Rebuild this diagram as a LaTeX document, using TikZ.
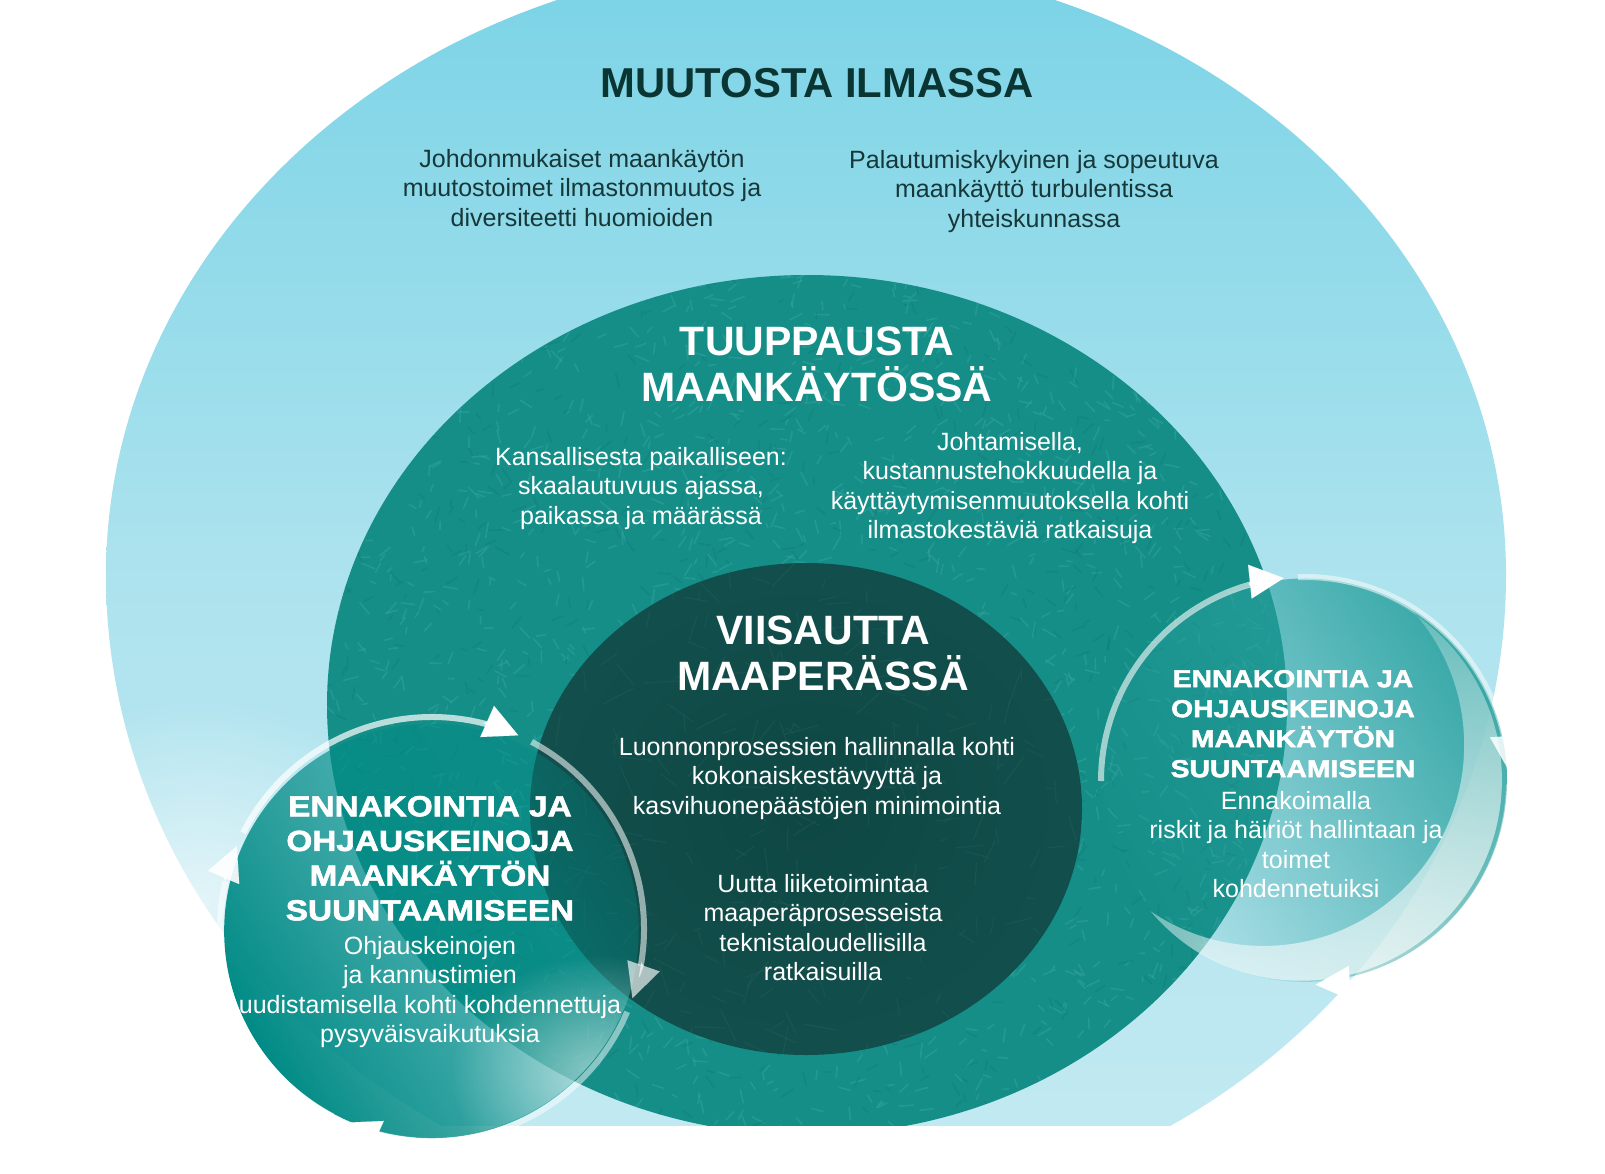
\documentclass[tikz,border=0pt]{standalone}
\usepackage{fontspec}
\setmainfont{Liberation Sans}
\newfontfamily\hvy{Liberation Sans}[FakeStretch=1.15,BoldFeatures={FakeBold=2}]
\usetikzlibrary{arrows.meta,fadings}
\definecolor{skyA}{HTML}{7AD3E6}
\definecolor{skyB}{HTML}{AEE3EE}
\definecolor{skyC}{HTML}{C4EAF2}
\definecolor{grass}{HTML}{158E88}
\definecolor{grassL}{HTML}{3AA8A0}
\definecolor{grassD}{HTML}{0C7670}
\definecolor{soil}{HTML}{0E4744}
\definecolor{soilE}{HTML}{124F4C}
\definecolor{soilL}{HTML}{2E6C67}
\definecolor{discL}{HTML}{018B86}
\definecolor{discR}{HTML}{2AA19F}
\definecolor{ink}{HTML}{0B3533}
\definecolor{inkB}{HTML}{173839}
\tikzfading[name=fadeL, left color=transparent!0, right color=transparent!70]
\tikzfading[name=fadeR, left color=transparent!10, right color=transparent!95]
\tikzfading[name=fadeC, left color=transparent!100, right color=transparent!35]
\tikzfading[name=blob, inner color=transparent!0, outer color=transparent!100]
\newcommand\ringseg[5]{\draw[ringline, draw opacity=#5] (#1) ++({-(#3)}:#2) arc[start angle={-(#3)}, end angle={-(#4)}, radius=#2];}
\newcommand\ringtip[4]{\draw[arrhead, opacity=#4] (#1) ++({-(#3+10)}:#2) arc[start angle={-(#3+10)}, end angle={-(#3)}, radius=#2];}
\begin{document}
\begin{tikzpicture}[x=1pt,y=-1pt,
  txt/.style={inner sep=0pt, outer sep=0pt, align=center, anchor=north},
  body/.style={txt, font=\fontsize{25}{29.6}\selectfont},
  ttl/.style={txt, font=\bfseries\fontsize{41}{45.5}\selectfont, text=white},
  hvL/.style={txt, font=\hvy\bfseries\fontsize{29}{34.7}\selectfont, text=white},
  hvR/.style={txt, font=\hvy\bfseries\fontsize{24.6}{30}\selectfont, text=white},
  ringline/.style={draw=white, line width=6pt},
  blade/.style={line width=1.6pt, line cap=round},
  arrhead/.style={draw=white, fill=white, line width=0.01pt, -{Triangle[width=34pt,length=34pt]}}]
\useasboundingbox (0,0) rectangle (1605,1174);
\fill[white] (0,0) rectangle (1605,1174);
\coordinate (O) at (806,575);
\coordinate (M) at (807,705);
\coordinate (I) at (806,809);
\coordinate (L) at (432,929);
\coordinate (R) at (1305,781);
\begin{scope}
\clip (0,0) rectangle (1605,1125);
\shade[top color=skyA, bottom color=skyC, middle color=skyB]
  (106,575) arc[start angle=180,end angle=360,x radius=700,y radius=615]
  arc[start angle=0,end angle=180,x radius=700,y radius=645] -- cycle;
\fill[white, fill opacity=0.6, path fading=blob] (200,900) ellipse[x radius=230, y radius=200];
\fill[grass] (M) ellipse[x radius=480, y radius=430];
\clip (M) ellipse[x radius=480, y radius=430];
\pgfmathsetseed{12}
\foreach \k in {1,...,1900} {
  \pgfmathsetmacro\xx{327+960*rnd}
  \pgfmathsetmacro\yy{275+860*rnd}
  \pgfmathsetmacro\aa{360*rnd}
  \pgfmathsetmacro\ll{5+10*rnd}
  \draw[blade, draw=grassL, draw opacity=0.42] (\xx,\yy) -- ++(\aa:\ll);
}
\foreach \k in {1,...,800} {
  \pgfmathsetmacro\xx{327+960*rnd}
  \pgfmathsetmacro\yy{275+860*rnd}
  \pgfmathsetmacro\aa{360*rnd}
  \pgfmathsetmacro\ll{5+10*rnd}
  \draw[blade, draw=grassD, draw opacity=0.3] (\xx,\yy) -- ++(\aa:\ll);
}
\end{scope}
\shade[inner color=soil, outer color=soilE] (I) ellipse[x radius=276, y radius=246];
\begin{scope}
\clip (I) ellipse[x radius=276, y radius=246];
\foreach \k in {1,...,260} {
  \pgfmathsetmacro\xx{530+552*rnd}
  \pgfmathsetmacro\yy{563+492*rnd}
  \pgfmathsetmacro\aa{360*rnd}
  \pgfmathsetmacro\ll{6+30*rnd}
  \draw[line width=1.2pt, line cap=round, draw=soilL, draw opacity=0.25] (\xx,\yy) -- ++(\aa:\ll);
}
\end{scope}
% left disc
\fill[discL, path fading=fadeL, fading angle=30] (L) circle[radius=208];
\begin{scope}
\clip (L) circle[radius=208];
\fill[white, fill opacity=0.55, path fading=blob] (600,1075) ellipse[x radius=150, y radius=120];
\end{scope}
% right disc
\fill[discR, path fading=fadeR, fading angle=210] (R) circle[radius=202];
\begin{scope}
\clip (R) circle[radius=202];
\fill[white, path fading=fadeC, fading angle=-60, even odd rule] (R) circle[radius=202] ([shift={(-38,-35)}]R) circle[radius=202];
\end{scope}
% rings left
\ringseg{L}{212}{153}{75}{0.7}
\ringseg{L}{212}{62}{-10}{0.55}
\ringseg{L}{212}{-23}{-105}{0.5}
\ringseg{L}{212}{-118}{-193}{0.55}
\ringtip{L}{212}{66}{1}
\ringtip{L}{212}{-19}{0.65}
\ringtip{L}{212}{-114}{1}
\ringtip{L}{212}{157}{0.9}
% rings right
\ringseg{R}{204}{180}{105}{0.6}
\ringseg{R}{204}{92}{12}{0.5}
\ringseg{R}{204}{-1}{-78}{0.4}
\ringtip{R}{204}{96}{1}
\ringtip{R}{204}{3}{0.85}
\ringtip{R}{204}{-87}{1}
% texts
\node[inner sep=0pt, anchor=base, font=\bfseries\fontsize{41.8}{46}\selectfont, text=ink] (t1) at (817,98) {MUUTOSTA ILMASSA};
\node[body, text=inkB] (t1a) at (582,149) {Johdonmukaiset maankäytön\\muutostoimet ilmastonmuutos ja\\diversiteetti huomioiden};
\node[body, text=inkB] (t1b) at (1034,150) {Palautumiskykyinen ja sopeutuva\\maankäyttö turbulentissa\\yhteiskunnassa};
\node[ttl] (t2) at (817,327) {TUUPPAUSTA\\MAANKÄYTÖSSÄ};
\node[body, text=white] (t2a) at (641,447) {Kansallisesta paikalliseen:\\skaalautuvuus ajassa,\\paikassa ja määrässä};
\node[body, text=white] (t2b) at (1010,432) {Johtamisella,\\kustannustehokkuudella ja\\käyttäytymisenmuutoksella kohti\\ilmastokestäviä ratkaisuja};
\node[ttl] (t3) at (823,616) {VIISAUTTA\\MAAPERÄSSÄ};
\node[body, text=white] (t3a) at (817,737) {Luonnonprosessien hallinnalla kohti\\kokonaiskestävyyttä ja\\kasvihuonepäästöjen minimointia};
\node[body, text=white] (t3b) at (823,874) {Uutta liiketoimintaa\\maaperäprosesseista\\teknistaloudellisilla\\ratkaisuilla};
\node[hvL] (t4) at (430,796) {ENNAKOINTIA JA\\OHJAUSKEINOJA\\MAANKÄYTÖN\\SUUNTAAMISEEN};
\node[body, text=white] (t4a) at (430,936) {Ohjauskeinojen\\ja kannustimien\\uudistamisella kohti kohdennettuja\\pysyväisvaikutuksia};
\node[hvR] (t5) at (1293,670) {ENNAKOINTIA JA\\OHJAUSKEINOJA\\MAANKÄYTÖN\\SUUNTAAMISEEN};
\node[body, text=white] (t5a) at (1296,791) {Ennakoimalla\\riskit ja häiriöt hallintaan ja\\toimet\\kohdennetuiksi};
\end{tikzpicture}
\end{document}
